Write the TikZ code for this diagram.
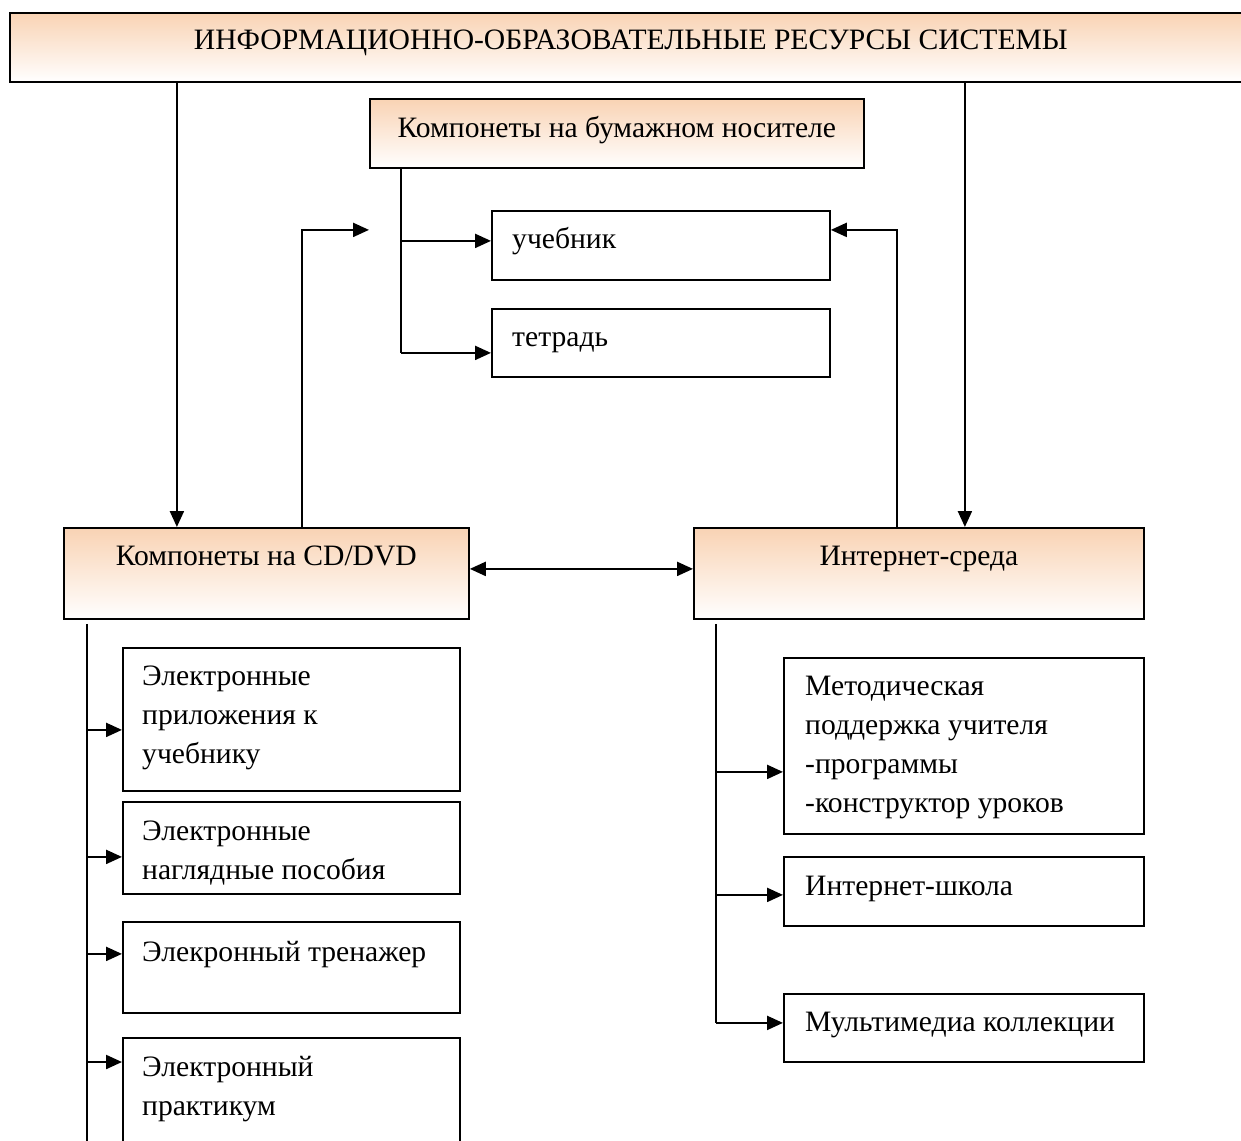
\documentclass[tikz,border=0pt]{standalone}
\usepackage{fontspec}
\setmainfont{Liberation Serif}
\usetikzlibrary{arrows.meta, positioning}

\definecolor{peach}{RGB}{249,211,180}

\begin{document}
\begin{tikzpicture}[x=1pt, y=-1pt,
    box/.style={draw, line width=1.8pt, anchor=north west, inner sep=0},
    headbox/.style={box, top color=peach, middle color=peach!50!white, bottom color=white},
    txt/.style={anchor=base west, align=left, inner sep=0, font=\fontsize{29.6}{39}\selectfont},
    ctxt/.style={txt, anchor=base},
    link/.style={line width=2.2pt},
    arr/.style={link, -{Triangle[length=16pt, width=14pt]}}
]
    \useasboundingbox (0,0) rectangle (1241,1140);
    \clip (0,0) rectangle (1241,1140);

    % Top header
    \node[headbox, minimum width=1260, minimum height=69] (info) at (9,12) {};
    \node[ctxt, xshift=-9, yshift=-38] (infot) at (info.north) {ИНФОРМАЦИОННО-ОБРАЗОВАТЕЛЬНЫЕ РЕСУРСЫ СИСТЕМЫ};

    % Paper components
    \node[headbox, minimum width=494, minimum height=69] (paper) at (369,98) {};
    \node[ctxt, yshift=-39] (papert) at (paper.north) {Компонеты на бумажном носителе};
    \node[box, minimum width=338, minimum height=69] (ucheb) at (491,210) {};
    \node[txt, xshift=21, yshift=-38] (uchebt) at (ucheb.north west) {учебник};
    \node[box, minimum width=338, minimum height=68] (tetr) at (491,308) {};
    \node[txt, xshift=21, yshift=-38] (tetrt) at (tetr.north west) {тетрадь};

    % CD/DVD and Internet
    \node[headbox, minimum width=405, minimum height=91] (cd) at (63,527) {};
    \node[ctxt, yshift=-38] (cdt) at (cd.north) {Компонеты на CD/DVD};
    \node[headbox, minimum width=450, minimum height=91] (inet) at (693,527) {};
    \node[ctxt, yshift=-38] (inett) at (inet.north) {Интернет-среда};

    % Left column (base = last line)
    \node[box, minimum width=337, minimum height=143] (l1) at (122,647) {};
    \node[txt, xshift=20, yshift=-116] (l1t) at (l1.north west) {Электронные\\приложения к\\учебнику};
    \node[box, minimum width=337, minimum height=92] (l2) at (122,801) {};
    \node[txt, xshift=20, yshift=-78] (l2t) at (l2.north west) {Электронные\\наглядные пособия};
    \node[box, minimum width=337, minimum height=91] (l3) at (122,921) {};
    \node[txt, xshift=20, yshift=-40] (l3t) at (l3.north west) {Элекронный тренажер};
    \node[box, minimum width=337, minimum height=130] (l4) at (122,1037) {};
    \node[txt, xshift=20, yshift=-78] (l4t) at (l4.north west) {Электронный\\практикум};

    % Right column
    \node[box, minimum width=360, minimum height=176] (r1) at (783,657) {};
    \node[txt, xshift=22, yshift=-155] (r1t) at (r1.north west) {Методическая\\поддержка учителя\\-программы\\-конструктор уроков};
    \node[box, minimum width=360, minimum height=69] (r2) at (783,856) {};
    \node[txt, xshift=22, yshift=-39] (r2t) at (r2.north west) {Интернет-школа};
    \node[box, minimum width=360, minimum height=68] (r3) at (783,993) {};
    \node[txt, xshift=22, yshift=-38] (r3t) at (r3.north west) {Мультимедиа коллекции};

    % Header to CD/DVD and Internet
    \draw[arr] ([xshift=-89.5]info.south -| cd.north) -- ([xshift=-89.5]cd.north);
    \draw[arr] ([xshift=46]info.south -| inet.north) -- ([xshift=46]inet.north);

    % Links up to the paper components
    \draw[arr] ([xshift=35.5]cd.north) |- ([yshift=15.5]ucheb.east -| paper.west);
    \draw[arr] ([xshift=-22]inet.north) |- ([yshift=15.5]ucheb.east);
    \draw[arr, {Triangle[length=16pt, width=14pt]}-{Triangle[length=16pt, width=14pt]}]
        ([yshift=4.5]cd.east) -- ([yshift=4.5]inet.west);

    % Paper branches
    \draw[link] ([xshift=32]paper.south west) -- ([xshift=32,yshift=-10]paper.south west |- tetr.west);
    \draw[arr] ([xshift=32,yshift=4.5]paper.south west |- ucheb.west) -- ([yshift=4.5]ucheb.west);
    \draw[arr] ([xshift=32,yshift=-10]paper.south west |- tetr.west) -- ([yshift=-10]tetr.west);

    % CD/DVD branches
    \draw[link] ([xshift=24,yshift=-4]cd.south west) -- ([xshift=24]cd.south west |- l4.south);
    \draw[arr] ([xshift=24,yshift=-10.5]cd.south west |- l1.west) -- ([yshift=-10.5]l1.west);
    \draw[arr] ([xshift=24,yshift=-9]cd.south west |- l2.west) -- ([yshift=-9]l2.west);
    \draw[arr] ([xshift=24,yshift=13.5]cd.south west |- l3.west) -- ([yshift=13.5]l3.west);
    \draw[arr] ([xshift=24,yshift=-25]cd.south west |- l4.north) -- ([yshift=-25]l4.north west);

    % Internet branches
    \draw[link] ([xshift=23,yshift=-4]inet.south west) -- ([xshift=23,yshift=5]inet.south west |- r3.west);
    \draw[arr] ([xshift=23,yshift=-26]inet.south west |- r1.west) -- ([yshift=-26]r1.west);
    \draw[arr] ([xshift=23,yshift=-3.5]inet.south west |- r2.west) -- ([yshift=-3.5]r2.west);
    \draw[arr] ([xshift=23,yshift=5]inet.south west |- r3.west) -- ([yshift=5]r3.west);
\end{tikzpicture}
\end{document}
